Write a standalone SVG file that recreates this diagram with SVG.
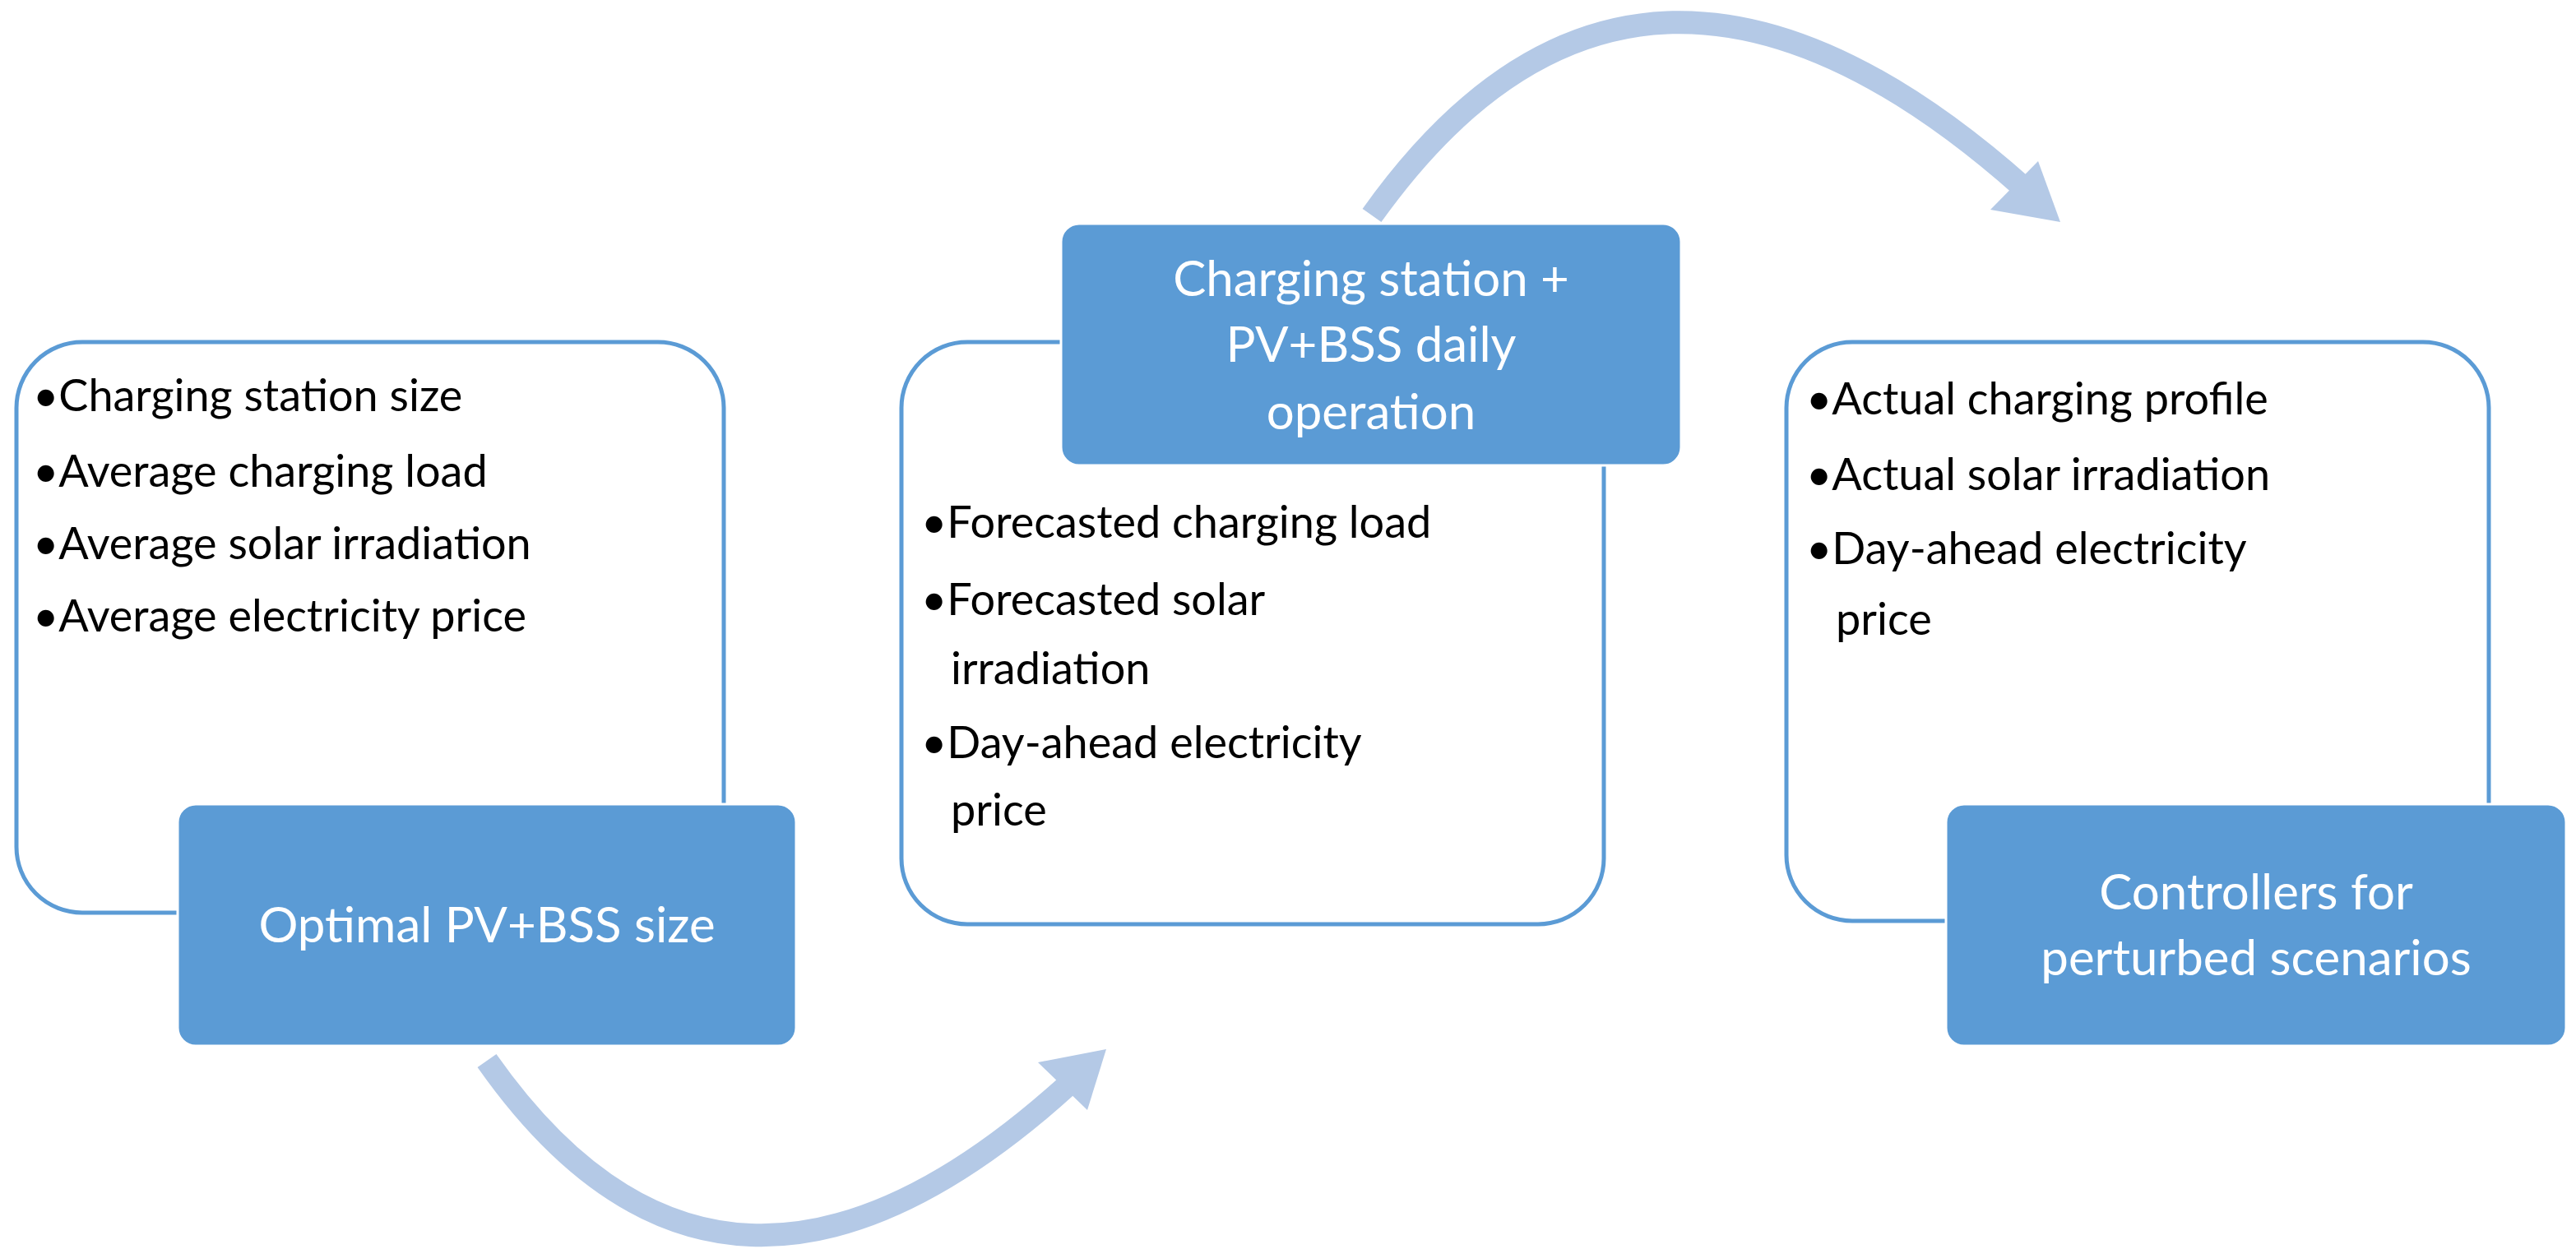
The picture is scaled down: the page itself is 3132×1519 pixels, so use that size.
<svg xmlns="http://www.w3.org/2000/svg" width="3132" height="1519" viewBox="0 0 3132 1519">
<style>
.ob{fill:#fff;stroke:#5b9bd5;stroke-width:5}
.fb{fill:#5b9bd5;stroke:#fff;stroke-width:3}
.t{font-family:Lato,"Open Sans",sans-serif;font-size:54px;fill:#000}
.w{font-family:Lato,"Open Sans",sans-serif;font-size:60px;fill:#fff;text-anchor:middle}
.arc{fill:none;stroke:#b4c9e6;stroke-width:28}
</style>
<rect width="3132" height="1519" fill="#fff"/>
<g id="connectors">
<path class="arc" d="M592 1290 Q 880 1700 1300 1318"/>
<polygon points="1345,1276 1262,1292 1322,1350" fill="#b4c9e6"/>
<path class="arc" d="M1668 262 Q 1990 -190 2460 228"/>
<polygon points="2505,270 2420,255 2478,196" fill="#b4c9e6"/>
</g>
<g id="node1">
<rect class="ob" x="20" y="416" width="860" height="694" rx="80"/>
<text class="t" x="40" y="500">•Charging station size</text>
<text class="t" x="40" y="592">•Average charging load</text>
<text class="t" x="40" y="680">•Average solar irradiation</text>
<text class="t" x="40" y="768">•Average electricity price</text>
</g>
<g id="node2">
<rect class="fb" x="216" y="978" width="752" height="294" rx="22"/>
<text class="w" x="592" y="1146">Optimal PV+BSS size</text>
</g>
<g id="node3">
<rect class="ob" x="1096" y="416" width="854" height="708" rx="80"/>
<text class="t" x="1120" y="654">•Forecasted charging load</text>
<text class="t" x="1120" y="748">•Forecasted solar</text>
<text class="t" x="1156" y="832">irradiation</text>
<text class="t" x="1120" y="922">•Day-ahead electricity</text>
<text class="t" x="1156" y="1004">price</text>
</g>
<g id="node4">
<rect class="fb" x="1290" y="272" width="754" height="294" rx="22"/>
<text class="w" x="1667" y="360">Charging station +</text>
<text class="w" x="1667" y="440">PV+BSS daily</text>
<text class="w" x="1667" y="522">operation</text>
</g>
<g id="node5">
<rect class="ob" x="2172" y="416" width="854" height="704" rx="80"/>
<text class="t" x="2196" y="504">•Actual charging profile</text>
<text class="t" x="2196" y="596">•Actual solar irradiation</text>
<text class="t" x="2196" y="686">•Day-ahead electricity</text>
<text class="t" x="2232" y="772">price</text>
</g>
<g id="node6">
<rect class="fb" x="2366" y="978" width="754" height="294" rx="22"/>
<text class="w" x="2743" y="1106">Controllers for</text>
<text class="w" x="2743" y="1186">perturbed scenarios</text>
</g>
</svg>
